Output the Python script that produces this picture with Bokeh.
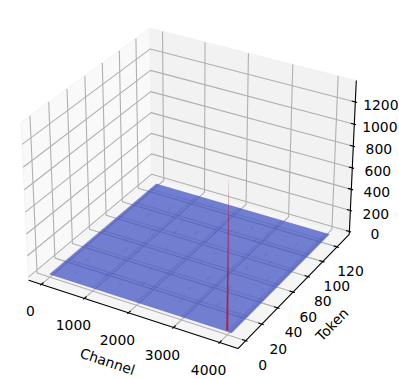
import math
from bokeh.plotting import figure
from bokeh.embed import file_html
from bokeh.resources import INLINE
from bokeh.core.properties import value

# ---- data ----
channel_extent = [0, 4096]
token_extent = [0, 128]
surface_level = 0
spike_channel = 3980
spike_token = 1
spike_height = 1362
channel_ticks = [0, 1000, 2000, 3000, 4000]
token_ticks = [0, 20, 40, 60, 80, 100, 120]
count_ticks = [0, 200, 400, 600, 800, 1000, 1200]
speck_channels = [1154, 665, 350, 820, 1500, 1780, 2100, 2450, 2700, 3050, 3350, 3600, 3800, 1250, 900, 2300, 2900, 3400, 1900, 600, 3100, 3700, 1400, 2600,
                  420, 980, 1620, 2240, 2780, 3240, 3880, 520, 1080, 1720, 2380, 3020, 3560, 760, 1340, 2040, 2640, 3300, 3940, 1460]
speck_tokens = [29, 1, 24, 44, 60, 18, 36, 70, 12, 52, 84, 30, 60, 92, 72, 100, 96, 20, 112, 56, 8, 104, 10, 110,
                8, 14, 34, 22, 42, 66, 48, 88, 48, 84, 58, 116, 76, 104, 78, 92, 28, 40, 16, 120]
speck_lengths = [1, 2, 4, 6, 3, 5, 4, 3, 6, 5, 4, 6, 5, 3, 4, 3, 5, 6, 3, 4, 5, 4, 3, 2,
                 3, 5, 4, 2, 6, 3, 4, 5, 3, 6, 2, 4, 5, 3, 6, 4, 2, 5, 3, 4]

# ---- matplotlib-like 3D view ----
xlo0, xhi0 = channel_extent[0] - 204.8, channel_extent[1] + 204.8
ylo0, yhi0 = token_extent[0] - 6.4, token_extent[1] + 6.4
xd = (xhi0 - xlo0) / 48
yd = (yhi0 - ylo0) / 48
zd = spike_height / 48
xlo, xhi = xlo0 - xd, xhi0 + xd
ylo, yhi = ylo0 - yd, yhi0 + yd
zlo, zhi = -zd, spike_height + zd

el, az = math.radians(30), math.radians(-60)
dist = 10.0
scale = 1.8294640721620434 * 25 / 24 / math.sqrt(4**2 + 4**2 + 3**2)
bx, by, bz = 4 * scale, 4 * scale, 3 * scale
nx, ny, nz = math.cos(el) * math.cos(az), math.cos(el) * math.sin(az), math.sin(el)
ux, uy = 0.866025, 0.5
vx, vy, vz = -nz * uy, nz * ux, nx * uy - ny * ux


def proj(x, y, z):
    dx = ((x - xlo) / (xhi - xlo) - 0.5) * bx
    dy = ((y - ylo) / (yhi - ylo) - 0.5) * by
    dz = ((z - zlo) / (zhi - zlo) - 0.5) * bz
    u = dx * ux + dy * uy
    v = dx * vx + dy * vy + dz * vz
    w = dx * nx + dy * ny + dz * nz
    return u / (dist - w), v / (dist - w)


def pts(*triples):
    p_ = [proj(*t) for t in triples]
    return [a for a, _ in p_], [b for _, b in p_]


W, H = 399, 379
PX = 2015.0
OX, OY = 191.4, 180.2
p = figure(width=W, height=H, output_backend="svg", toolbar_location=None,
           x_range=((0 - OX) / PX, (W - OX) / PX),
           y_range=((OY - H) / PX, OY / PX),
           x_axis_type=None, y_axis_type=None, min_border=0,
           outline_line_color=None, background_fill_color="white",
           border_fill_color="white", match_aspect=False)
p.grid.visible = False

# panes
for tri, col in [
    (((xlo, ylo, zlo), (xlo, yhi, zlo), (xlo, yhi, zhi), (xlo, ylo, zhi)), "#f9f9f9"),
    (((xlo, yhi, zlo), (xhi, yhi, zlo), (xhi, yhi, zhi), (xlo, yhi, zhi)), "#f2f2f2"),
    (((xlo, ylo, zlo), (xhi, ylo, zlo), (xhi, yhi, zlo), (xlo, yhi, zlo)), "#f5f5f5"),
]:
    a, b = pts(*tri)
    p.patch(a, b, fill_color=col, line_color="#f0f0f0", line_width=0.8)

GRID = "#b0b0b0"
GW = 1.1
for t in channel_ticks:
    a, b = pts((t, ylo, zlo), (t, yhi, zlo), (t, yhi, zhi))
    p.line(a, b, line_color=GRID, line_width=GW)
for t in token_ticks:
    a, b = pts((xhi, t, zlo), (xlo, t, zlo), (xlo, t, zhi))
    p.line(a, b, line_color=GRID, line_width=GW)
for t in count_ticks:
    a, b = pts((xhi, yhi, t), (xlo, yhi, t), (xlo, ylo, t))
    p.line(a, b, line_color=GRID, line_width=GW)

# axis lines
for seg in [((xlo, ylo, zlo), (xhi, ylo, zlo)), ((xhi, ylo, zlo), (xhi, yhi, zlo)), ((xhi, yhi, zlo), (xhi, yhi, zhi))]:
    a, b = pts(*seg)
    p.line(a, b, line_color="black", line_width=1.1)

# ticks
dxr, dyr = (xhi - xlo) / 12, (yhi - ylo) / 12
for t in channel_ticks:
    a, b = pts((t, ylo - 0.1 * dyr, zlo), (t, ylo + 0.2 * dyr, zlo))
    p.line(a, b, line_color="black", line_width=1.1)
for t in token_ticks:
    a, b = pts((xhi + 0.1 * dxr, t, zlo), (xhi - 0.2 * dxr, t, zlo))
    p.line(a, b, line_color="black", line_width=1.1)
for t in count_ticks:
    a, b = pts((xhi + 0.1 * dxr, yhi, t), (xhi - 0.2 * dxr, yhi, t))
    p.line(a, b, line_color="black", line_width=1.1)

# surface
c0, c1 = channel_extent
t0, t1 = token_extent
a, b = pts((c0, t0, surface_level), (c1, t0, surface_level), (c1, t1, surface_level), (c0, t1, surface_level))
p.patch(a, b, fill_color="#3b4cc0", fill_alpha=0.7, line_color=None)

# floor grid showing through the translucent surface
for t in channel_ticks:
    a, b = pts((t, t0, surface_level), (t, t1, surface_level))
    p.line(a, b, line_color="#2f3c9c", line_alpha=0.18, line_width=GW)
for t in token_ticks:
    a, b = pts((c0, t, surface_level), (c1, t, surface_level))
    p.line(a, b, line_color="#2f3c9c", line_alpha=0.18, line_width=GW)

# fine structure of the surface
for c, t, l in zip(speck_channels, speck_tokens, speck_lengths):
    a, b = pts((c, t, surface_level), (c, t + l, surface_level))
    p.line(a, b, line_color="#2f3c9c", line_alpha=0.4, line_width=0.6)

# spike
a, b = pts((spike_channel - 24, spike_token, surface_level), (spike_channel, spike_token, spike_height),
           (spike_channel + 24, spike_token, surface_level))
p.patch(a, b, fill_color="#b40426", fill_alpha=0.7, line_color=None)

FONT = value("DejaVu Sans")
SIZE = "13.9px"


def label(x, y, z, txt, dx, dy, angle=0.0, size=SIZE):
    a, b = proj(x, y, z)
    p.text([a], [b], text=[txt], x_offset=dx, y_offset=dy, angle=angle, angle_units="deg",
           text_align="center", text_baseline="middle", text_font=FONT, text_font_size=size,
           text_color="black")


for t in channel_ticks:
    label(t, ylo, zlo, str(t), -11.0, 27.0)
for t in token_ticks:
    label(xhi, t, zlo, str(t), 17.0 - t * 0.03, 24.5)
for t in count_ticks:
    label(xhi, yhi, t, str(t), 25.5, 3.0)
label((xlo + xhi) / 2, ylo, zlo, "Channel", -23.0, 48.0, -18.5)
label(xhi, (ylo + yhi) / 2, zlo, "Token", 36.0, 35.5, 45.5)

open("out.html", "w").write(file_html(p, INLINE))
